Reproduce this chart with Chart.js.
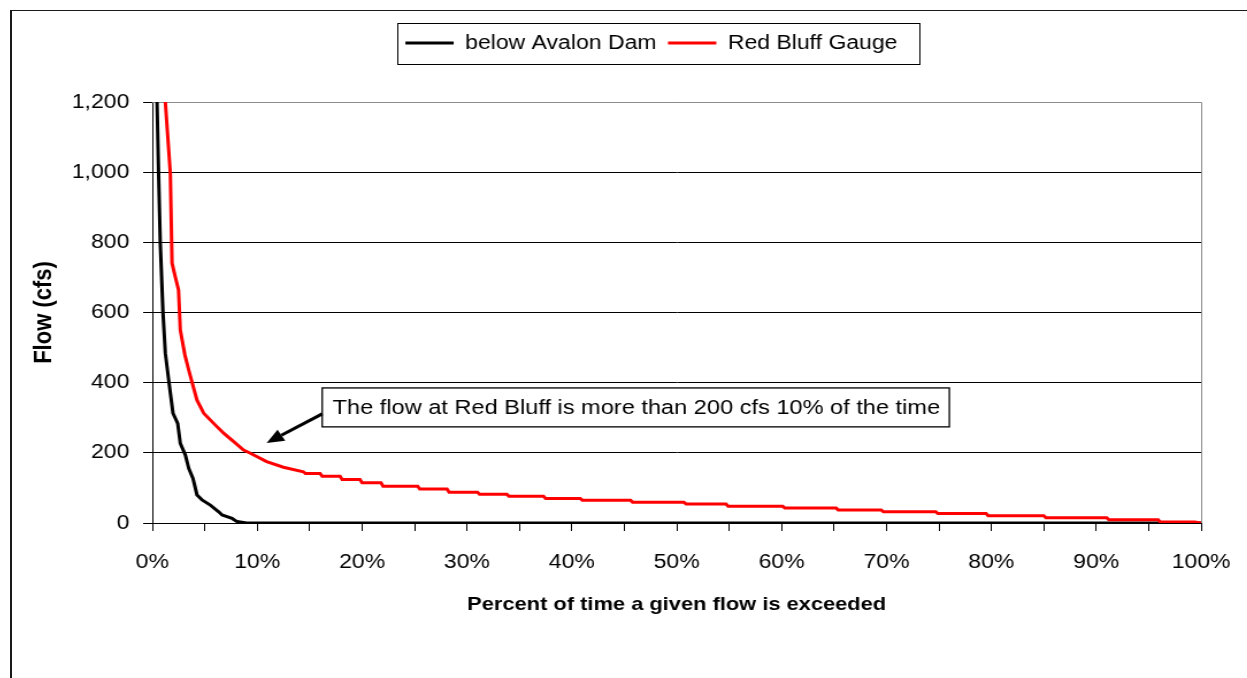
<!DOCTYPE html>
<html>
<head>
<meta charset="utf-8">
<script src="https://cdn.jsdelivr.net/npm/chart.js@4/dist/chart.umd.min.js"></script>
<style>
  html, body { margin: 0; padding: 0; background: #fff; overflow: hidden; width: 1247px; height: 678px; }
  #frame { position: absolute; left: 10px; top: 10px; width: 1400px; height: 700px;
           border-left: 2px solid #1a1a1a; border-top: 1px solid #1a1a1a; overflow: hidden; }
  #flowChart { position: absolute; left: 0; top: 0; transform: scaleX(1.15); transform-origin: 0 0; }
</style>
</head>
<body>
<div id="frame"><canvas id="flowChart" width="1112" height="667"></canvas></div>
<script>
// Flow duration curves: percent of time exceeded (x) vs. flow in cfs (y)
const seriesNames = ['below Avalon Dam', 'Red Bluff Gauge'];

const avalonPct  = [0.45, 0.6, 0.76, 1.02, 1.24, 1.56, 1.97, 2.42, 2.67, 3.15, 3.47, 3.88, 4.26, 4.74, 5.53, 6.33, 6.65, 7.6, 8.08, 9.0, 100];
const avalonFlow = [1200, 997, 798, 599, 484, 408, 313, 284, 227, 194, 156, 127, 80, 66, 51, 32, 23, 13, 4, 0, 0];

const redBluffPct = [1.24, 1.72, 1.88, 2.2, 2.5, 2.67, 3.1, 3.47, 3.8, 4.26, 4.9, 5.85, 6.8, 7.76, 8.7, 9.35, 10.9, 12.5, 14.4,
  14.6, 16.0, 16.2, 17.9, 18.1, 19.8, 20.0, 21.8, 22.0, 25.3, 25.5, 28.1, 28.3, 31.0, 31.2, 33.8, 34.0, 37.3, 37.5, 40.8,
  41.0, 45.6, 45.8, 50.7, 50.9, 54.7, 54.9, 60.1, 60.3, 65.2, 65.4, 69.5, 69.7, 74.7, 74.9, 79.5, 79.7, 85.0, 85.2, 91.0,
  91.2, 95.9, 96.1, 99.4, 100];
const redBluffFlow = [1200, 997, 741, 700, 664, 550, 480, 436, 400, 350, 313, 284, 256, 232, 208, 199, 175, 159, 146,
  141, 141, 133, 133, 124, 124, 115, 115, 105, 105, 97, 97, 88, 88, 82, 82, 76, 76, 70, 70,
  65, 65, 59, 59, 54, 54, 48, 48, 43, 43, 37, 37, 32, 32, 27, 27, 21, 21, 15, 15,
  9.5, 9.5, 3, 3, 0];

const yTickValues = [0, 200, 400, 600, 800, 1000, 1200];
const xLabelStep = 10;   // labelled every 10 %, tick marks every 5 %

// Callout: box anchored in data units, arrow pointing at the 10 % / 200 cfs region
const calloutText = 'The flow at Red Bluff is more than 200 cfs 10% of the time';
const calloutBox = { pct: 16.2, flowTop: 385, flowBottom: 274 };
const calloutArrow = { fromPct: 16.2, fromFlow: 311, toPct: 10.9, toFlow: 228 };

const FONT = "'Liberation Sans', Arial, sans-serif";
const toPoints = (xs, ys) => xs.map((x, i) => ({ x, y: ys[i] }));

// Frame lines of the plot area (grey top/right edges)
const plotFrame = {
  id: 'plotFrame',
  beforeDatasetsDraw(chart) {
    const { ctx, chartArea: a } = chart;
    ctx.save();
    ctx.strokeStyle = '#8c8c8c';
    ctx.lineWidth = 1;
    ctx.beginPath();
    ctx.moveTo(a.left, a.top + 0.5);
    ctx.lineTo(a.right + 0.5, a.top + 0.5);
    ctx.lineTo(a.right + 0.5, a.bottom);
    ctx.stroke();
    ctx.restore();
  }
};

// Border around the legend entries
const legendFrame = {
  id: 'legendFrame',
  afterDraw(chart) {
    const boxes = chart.legend && chart.legend.legendHitBoxes;
    if (!boxes || !boxes.length) return;
    const left = Math.min(...boxes.map(b => b.left)) - 7;
    const right = Math.max(...boxes.map(b => b.left + b.width)) + 19;
    const mid = boxes[0].top + boxes[0].height / 2;
    const { ctx } = chart;
    ctx.save();
    ctx.strokeStyle = '#000';
    ctx.lineWidth = 1;
    ctx.strokeRect(Math.round(left) + 0.5, Math.round(mid - 20.5) + 0.5, Math.round(right - left), 41);
    ctx.restore();
  }
};

// Text callout with an arrow
const callout = {
  id: 'callout',
  afterDatasetsDraw(chart) {
    const { ctx, scales: { x, y } } = chart;
    ctx.save();
    ctx.font = '20.5px ' + FONT;
    const padL = 9, padR = 8;
    const bx = x.getPixelForValue(calloutBox.pct);
    const top = y.getPixelForValue(calloutBox.flowTop);
    const bottom = y.getPixelForValue(calloutBox.flowBottom);
    const w = ctx.measureText(calloutText).width + padL + padR;
    ctx.fillStyle = '#fff';
    ctx.fillRect(bx, top, w, bottom - top);
    ctx.strokeStyle = '#000';
    ctx.lineWidth = 1.3;
    ctx.strokeRect(bx, top, w, bottom - top);
    ctx.fillStyle = '#000';
    ctx.textBaseline = 'middle';
    ctx.textAlign = 'left';
    ctx.fillText(calloutText, bx + padL, (top + bottom) / 2 + 1);

    // arrow
    const x1 = x.getPixelForValue(calloutArrow.fromPct), y1 = y.getPixelForValue(calloutArrow.fromFlow);
    const x2 = x.getPixelForValue(calloutArrow.toPct),   y2 = y.getPixelForValue(calloutArrow.toFlow);
    const ang = Math.atan2(y2 - y1, x2 - x1);
    const head = 15, half = 6.5;
    const hx = x2 - head * Math.cos(ang), hy = y2 - head * Math.sin(ang);
    ctx.lineWidth = 3;
    ctx.beginPath();
    ctx.moveTo(x1, y1);
    ctx.lineTo(hx, hy);
    ctx.stroke();
    ctx.beginPath();
    ctx.moveTo(x2, y2);
    ctx.lineTo(hx + half * Math.sin(ang), hy - half * Math.cos(ang));
    ctx.lineTo(hx - half * Math.sin(ang), hy + half * Math.cos(ang));
    ctx.closePath();
    ctx.fill();
    ctx.restore();
  }
};

const CANVAS_W = 1112, CANVAS_H = 667;
const PLOT_LEFT = 122, PLOT_RIGHT = 1034, PLOT_BOTTOM = 512;

new Chart(document.getElementById('flowChart'), {
  type: 'line',
  data: {
    datasets: [
      {
        label: seriesNames[0],
        data: toPoints(avalonPct, avalonFlow),
        borderColor: '#000000',
        backgroundColor: '#000000',
        pointBorderColor: '#000000',
        pointBorderWidth: 3,
        borderWidth: 3,
        pointRadius: 0,
        tension: 0,
        order: 1
      },
      {
        label: seriesNames[1],
        data: toPoints(redBluffPct, redBluffFlow),
        borderColor: '#ff0000',
        backgroundColor: '#ff0000',
        pointBorderColor: '#ff0000',
        pointBorderWidth: 3,
        borderWidth: 3,
        pointRadius: 0,
        tension: 0,
        order: 0
      }
    ]
  },
  options: {
    responsive: false,
    animation: false,
    events: [],
    layout: { padding: { left: 0, right: 0, top: 12, bottom: 0 } },
    scales: {
      x: {
        type: 'linear',
        min: 0, max: 100,
        ticks: {
          stepSize: 5,
          autoSkip: false,
          maxRotation: 0,
          padding: 19,
          color: '#000',
          font: { family: FONT, size: 20 },
          callback: v => (v % xLabelStep === 0 ? v + '%' : '')
        },
        grid: { drawOnChartArea: false, drawTicks: true, tickLength: 8, color: '#000' },
        border: { color: '#000', width: 1 },
        title: {
          display: true,
          text: 'Percent of time a given flow is exceeded',
          color: '#000',
          font: { family: FONT, size: 19, weight: 'bold' },
          padding: { top: 0, bottom: 62 }
        },
        afterFit(s) { s.height = CANVAS_H - PLOT_BOTTOM; }
      },
      y: {
        type: 'linear',
        position: 'left',
        min: 0, max: 1200,
        afterBuildTicks(s) { s.ticks = yTickValues.map(v => ({ value: v })); },
        ticks: {
          padding: 12,
          color: '#000',
          font: { family: FONT, size: 20 },
          callback: v => v.toLocaleString('en-US')
        },
        grid: {
          color: c => (c.tick && c.tick.value === 1200 ? '#8c8c8c' : '#000'),
          tickColor: '#000',
          tickLength: 8,
          lineWidth: 1
        },
        border: { color: '#000', width: 1 },
        title: {
          display: true,
          text: 'Flow (cfs)',
          color: '#000',
          font: { family: FONT, size: 22, weight: 'bold' },
          padding: { top: 15, bottom: 0 }
        },
        afterFit(s) { s.width = PLOT_LEFT; }
      },
      yPad: {
        type: 'linear',
        position: 'right',
        display: true,
        grid: { display: false },
        ticks: { display: false },
        border: { display: false },
        afterFit(s) { s.width = CANVAS_W - PLOT_RIGHT; }
      }
    },
    plugins: {
      legend: {
        display: true,
        position: 'top',
        labels: {
          usePointStyle: true,
          pointStyle: 'line',
          pointStyleWidth: 42,
          padding: 10,
          color: '#000',
          font: { family: FONT, size: 20 },
          sort: (a, b) => a.datasetIndex - b.datasetIndex
        }
      },
      title: {
        display: true,
        text: '',
        weight: 500,
        font: { size: 10 },
        padding: { top: 0, bottom: 27 }
      },
      tooltip: { enabled: false }
    }
  },
  plugins: [plotFrame, legendFrame, callout]
});
</script>
</body>
</html>
